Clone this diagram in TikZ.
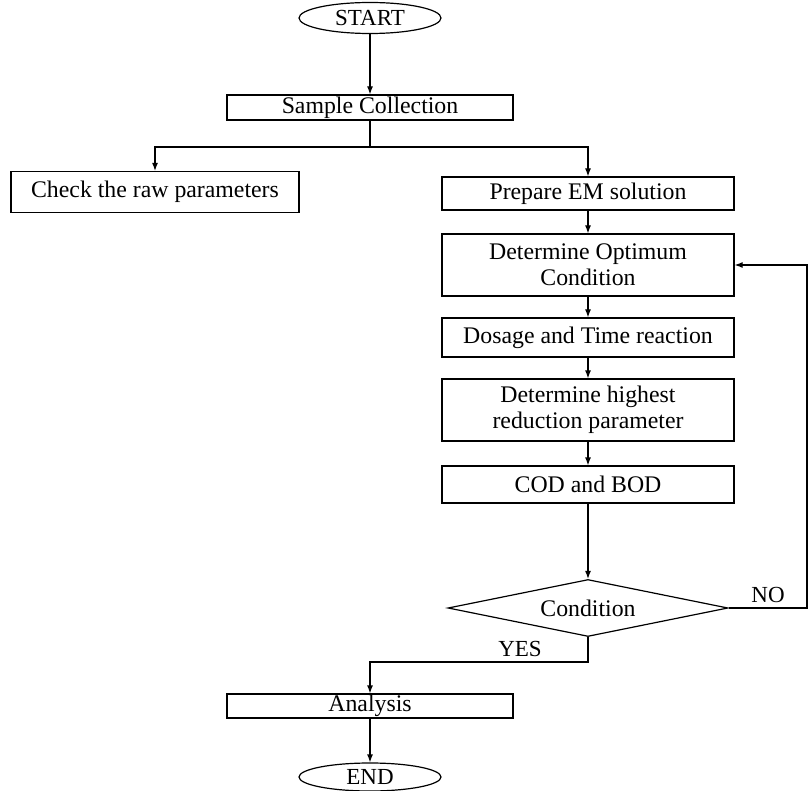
\documentclass[tikz,border=0pt]{standalone}
\usepackage{fontspec}
\setmainfont{Liberation Serif}
\usetikzlibrary{shapes.geometric,arrows.meta}
\begin{document}
\begin{tikzpicture}[x=1pt,y=-1pt,
  every node/.style={font=\fontsize{23.8}{26}\selectfont, inner sep=0pt, align=center},
  procbox/.style={draw, line width=1.2pt, rectangle},
  term/.style={draw, line width=1.2pt, ellipse, minimum width=142, font=\fontsize{23}{25}\selectfont},
  decide/.style={draw, line width=1.2pt, diamond, aspect=4.9, minimum width=280, minimum height=57},
  conn/.style={line width=1.2pt},
  arr/.style={conn, -{Latex[length=8pt,width=6pt]}},
  lbl/.style={font=\fontsize{23}{25}\selectfont}
]
\useasboundingbox (0,0) rectangle (808,791);
\node[term, minimum height=31] (start) at (370,18) {START};
\node[procbox, minimum width=286, minimum height=25] (sample) at (370,107.5) {Sample Collection};
\node[procbox, minimum width=288, minimum height=41] (check) at (155,192) {Check the raw parameters};
\node[procbox, minimum width=292, minimum height=33] (prep) at (588,193.5) {Prepare EM solution};
\node[procbox, minimum width=292, minimum height=62] (opt) at (588,265) {Determine Optimum\\Condition};
\node[procbox, minimum width=292, minimum height=39] (dose) at (588,337.5) {Dosage and Time reaction};
\node[procbox, minimum width=292, minimum height=62] (high) at (588,410) {Determine highest\\reduction parameter};
\node[procbox, minimum width=292, minimum height=37] (cod) at (588,484.5) {COD and BOD};
\node[decide] (cond) at (588,608) {Condition};
\node[procbox, minimum width=286, minimum height=24] (analysis) at (370,706) {Analysis};
\node[term, minimum height=28] (end) at (370,777) {END};

\coordinate (split) at (370,147);
\coordinate (fb) at (807,608);
\coordinate (yes) at (588,662);

\draw[arr] (start) -- (sample);
\draw[conn] (sample.south) -- (split);
\draw[arr] (split) -| (check.north);
\draw[arr] (split) -| (prep.north);
\draw[arr] (prep) -- (opt);
\draw[arr] (opt) -- (dose);
\draw[arr] (dose) -- (high);
\draw[arr] (high) -- (cod);
\draw[arr] (cod) -- (cond);
\draw[arr] (cond.east) -- (fb) |- (opt.east);
\draw[arr] (cond.south) -- (yes) -| (analysis.north);
\draw[arr] (analysis) -- (end);

\node[lbl] (nolbl) at (768,595) {NO};
\node[lbl] (yeslbl) at (520,649) {YES};
\end{tikzpicture}
\end{document}
